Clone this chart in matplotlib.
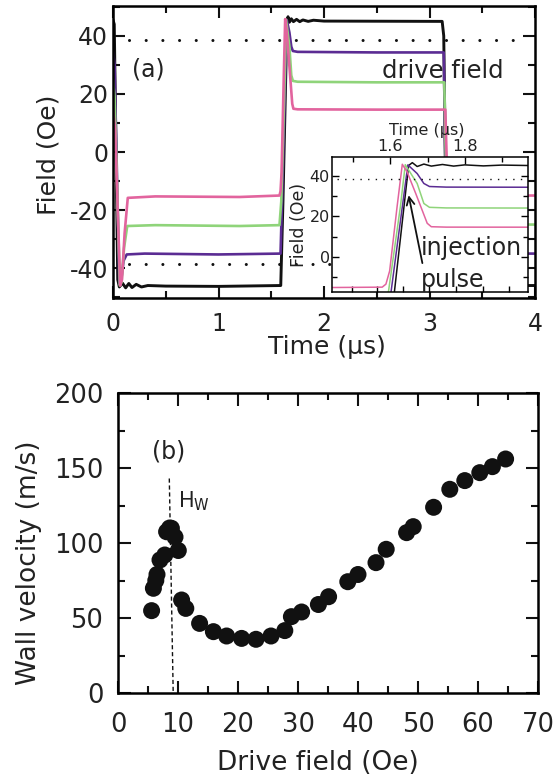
import matplotlib
matplotlib.use("Agg")
import matplotlib.pyplot as plt
from matplotlib.ticker import MultipleLocator, FixedLocator

plt.rcParams['font.family'] = ['DejaVu Sans']
plt.rcParams['mathtext.default'] = 'regular'
plt.rcParams['axes.unicode_minus'] = False

# ---------------- data: panel (a) drive-field waveforms ----------------
black_t = [0.0, 0.012, 0.045, 0.06, 0.09, 0.12, 0.15, 0.18, 0.22, 0.27, 0.33, 0.5, 1.0, 1.59, 1.611,
           1.649, 1.659, 1.672, 1.69, 1.71, 1.74, 1.77, 1.80, 1.85, 1.9, 2.0, 3.12, 3.135, 3.165, 4.0]
black_v = [45.5, 44.0, -44.0, -46.5, -45.2, -46.8, -45.3, -46.7, -45.6, -46.5, -46.0, -46.2, -46.3, -46.0, -17.0,
           45.2, 46.6, 44.7, 45.9, 44.9, 45.7, 44.9, 45.5, 45.0, 45.4, 45.1, 45.0, 40.0, -46.0, -46.0]

purple_t = [0.0, 0.015, 0.06, 0.075, 0.1, 0.13, 0.3, 1.0, 1.588, 1.602, 1.647, 1.672, 1.69, 1.705,
            1.75, 2.5, 3.135, 3.165, 3.19, 4.0]
purple_v = [34.5, 30.0, -45.5, -45.0, -37.5, -35.3, -35.0, -35.3, -35.0, -17.0, 45.5, 41.2, 36.3, 34.8,
            34.5, 34.3, 34.3, -38.0, -35.0, -35.0]

green_t = [0.0, 0.015, 0.065, 0.08, 0.105, 0.135, 0.4, 1.2, 1.578, 1.595, 1.627, 1.640, 1.672, 1.690,
           1.705, 1.75, 2.5, 3.14, 3.17, 3.2, 4.0]
green_v = [24.5, 19.0, -46.0, -45.0, -33.0, -25.5, -25.2, -25.5, -25.2, -17.0, 25.0, 45.6, 36.3, 26.4,
           24.5, 24.2, 24.0, 24.0, -28.0, -25.0, -25.0]

pink_t = [0.0, 0.02, 0.068, 0.085, 0.11, 0.14, 0.4, 1.2, 1.578, 1.588, 1.598, 1.618, 1.632, 1.645,
          1.668, 1.699, 1.71, 1.75, 2.5, 3.15, 3.175, 3.2, 4.0]
pink_v = [14.5, 8.0, -46.0, -44.0, -28.0, -15.8, -15.3, -15.5, -15.0, -13.5, -7.0, 24.8, 45.8, 42.0,
          31.4, 16.6, 14.9, 14.7, 14.6, 14.6, -18.0, -15.0, -15.0]

threshold = 38.7            # dotted reference level (+/-)
dotted_t = [0.15, 3.9]
inset_dotted_t = [1.457, 1.97]

# ---------------- data: panel (b) wall velocity ----------------
field = [5.6, 5.9, 6.3, 6.5, 7.0, 7.8, 8.1, 8.6, 8.9, 9.5, 10.05, 10.6, 11.3, 13.6, 15.9, 18.1, 20.6,
         23.0, 25.5, 27.8, 28.9, 30.6, 33.4, 35.1, 38.3, 40.0, 43.0, 44.7, 48.1, 49.2, 52.6, 55.3,
         57.8, 60.3, 62.4, 64.6]
velocity = [54.9, 69.8, 75.0, 79.0, 88.7, 92.0, 107.5, 110.0, 109.8, 104.0, 95.0, 62.0, 56.4, 46.4,
            40.9, 38.0, 36.4, 35.8, 38.0, 41.6, 50.9, 54.0, 59.0, 64.2, 74.2, 79.0, 86.9, 95.8, 106.9,
            110.9, 123.8, 135.8, 141.6, 146.9, 150.9, 156.0]
hw_x = [8.55, 9.2]
hw_y = [143.0, 0.0]

C_BLACK = '#111111'
C_PURPLE = '#5b2c93'
C_GREEN = '#8fd47a'
C_PINK = '#e2649e'
TXT = '#222222'

W, H = 557, 780
fig = plt.figure(figsize=(W / 100, H / 100), dpi=100)


def frac(x0, y0, x1, y1):
    return [x0 / W, 1 - y1 / H, (x1 - x0) / W, (y1 - y0) / H]


ax1 = fig.add_axes(frac(113, 6, 535, 298))
ax2 = fig.add_axes(frac(118, 393, 538, 693))
axin = fig.add_axes(frac(332, 157, 528, 292))

series = [(black_t, black_v, C_BLACK, 2.1), (purple_t, purple_v, C_PURPLE, 1.9),
          (green_t, green_v, C_GREEN, 1.9), (pink_t, pink_v, C_PINK, 1.9)]

# ---- panel (a) ----
for t, v, c, lw in series:
    ax1.plot(t, v, color=c, lw=lw, solid_joinstyle='round')
for s in (1, -1):
    ax1.plot(dotted_t, [s * threshold] * 2, color=C_BLACK, lw=2.2,
             linestyle=(0, (0.01, 5.45)), dash_capstyle='round')
ax1.set_xlim(0, 4)
ax1.set_ylim(-50.3, 50.3)
ax1.xaxis.set_major_locator(MultipleLocator(1))
ax1.xaxis.set_minor_locator(MultipleLocator(0.5))
ax1.yaxis.set_major_locator(MultipleLocator(20))
ax1.yaxis.set_minor_locator(MultipleLocator(10))
ax1.tick_params(which='both', direction='in', top=True, right=True, width=1.5, colors=C_BLACK,
                labelcolor=TXT, labelsize=17)
ax1.tick_params(which='major', length=8.5)
ax1.tick_params(which='minor', length=5)
ax1.tick_params(axis='y', pad=3.5)
ax1.tick_params(axis='x', pad=10)
for sp in ax1.spines.values():
    sp.set_linewidth(1.8)
ax1.set_xlabel('Time (\u03bcs)', fontsize=18, color=TXT)
ax1.set_ylabel('Field (Oe)', fontsize=18, color=TXT)
ax1.xaxis.set_label_coords(0.506, -0.126)
ax1.yaxis.set_label_coords(-0.125, 0.49)
ax1.text(132 / W, 1 - 77 / H, '(a)', transform=fig.transFigure, fontsize=17, color=TXT, va='baseline')
ax1.text(382 / W, 1 - 78 / H, 'drive field', transform=fig.transFigure, fontsize=17.5, color=TXT,
         va='baseline')

# ---- inset ----
axin.set_zorder(5)
axin.set_facecolor('white')
for t, v, c, lw in series:
    axin.plot(t, v, color=c, lw=1.1)
axin.plot(inset_dotted_t, [threshold] * 2, color=C_BLACK, lw=1.0, linestyle=(0, (1.0, 4.5)))
axin.set_xlim(1.443, 1.97)
axin.set_ylim(-17.4, 49.4)
axin.xaxis.set_major_locator(FixedLocator([1.6, 1.8]))
axin.xaxis.set_minor_locator(FixedLocator([1.5, 1.7, 1.9]))
axin.yaxis.set_major_locator(MultipleLocator(20))
axin.yaxis.set_minor_locator(MultipleLocator(10))
axin.tick_params(which='both', direction='in', bottom=False, top=True, labelbottom=False, labeltop=True,
                 left=True, right=True, width=1.0, labelsize=11.5, labelcolor=TXT)
axin.tick_params(which='major', length=5)
axin.tick_params(which='minor', length=3.5)
axin.tick_params(axis='y', pad=1.5)
axin.tick_params(axis='x', pad=2.5)
# bottom edge ticks of the inset (unlabelled, own spacing)
axb = axin.secondary_xaxis('bottom')
axb.set_xticks([1.4965, 1.564, 1.635, 1.703, 1.776, 1.849, 1.919])
axb.tick_params(direction='in', length=4, width=1.0, labelbottom=False)
axb.spines['bottom'].set_visible(False)
for sp in axin.spines.values():
    sp.set_linewidth(1.1)
axin.xaxis.set_label_position('top')
axin.set_xlabel('Time (\u03bcs)', fontsize=11.5, color=TXT)
axin.xaxis.set_label_coords(0.485, 1.165)
axin.set_ylabel('Field (Oe)', fontsize=12.5, color=TXT)
axin.yaxis.set_label_coords(-0.122, 0.50)
axin.annotate('', xy=(1.649, 30.5), xytext=(1.686, -3.1),
              arrowprops=dict(arrowstyle='->', lw=1.3, color=C_BLACK, mutation_scale=14,
                              shrinkA=0, shrinkB=0))
fig.text(421 / W, 1 - 255 / H, 'injection', fontsize=17, color=TXT, va='baseline', zorder=10)
fig.text(421 / W, 1 - 287 / H, 'pulse', fontsize=17, color=TXT, va='baseline', zorder=10)

# ---- panel (b) ----
ax2.scatter(field, velocity, s=150, color=C_BLACK, edgecolors='none', zorder=3)
ax2.plot(hw_x, hw_y, color=C_BLACK, lw=1.0, linestyle=(0, (3, 2)))
ax2.set_xlim(0, 70)
ax2.set_ylim(0, 200)
ax2.xaxis.set_major_locator(MultipleLocator(10))
ax2.xaxis.set_minor_locator(MultipleLocator(5))
ax2.yaxis.set_major_locator(MultipleLocator(50))
ax2.yaxis.set_minor_locator(MultipleLocator(25))
ax2.tick_params(which='both', direction='in', top=True, right=True, width=1.5, colors=C_BLACK,
                labelcolor=TXT, labelsize=18.5)
ax2.tick_params(which='major', length=9)
ax2.tick_params(which='minor', length=5)
ax2.tick_params(axis='y', pad=10.5)
ax2.tick_params(axis='x', pad=13.5)
for sp in ax2.spines.values():
    sp.set_linewidth(1.8)
ax2.set_xlabel('Drive field (Oe)', fontsize=19, color=TXT)
ax2.set_ylabel('Wall velocity (m/s)', fontsize=19, color=TXT)
ax2.xaxis.set_label_coords(0.476, -0.19)
ax2.yaxis.set_label_coords(-0.181, 0.433)
ax2.text(152 / W, 1 - 458 / H, '(b)', transform=fig.transFigure, fontsize=17, color=TXT, va='baseline')
ax2.text(178 / W, 1 - 507 / H, r'H$_{W}$', transform=fig.transFigure, fontsize=15, color=TXT,
         va='baseline')

fig.savefig('out.png', dpi=100)
